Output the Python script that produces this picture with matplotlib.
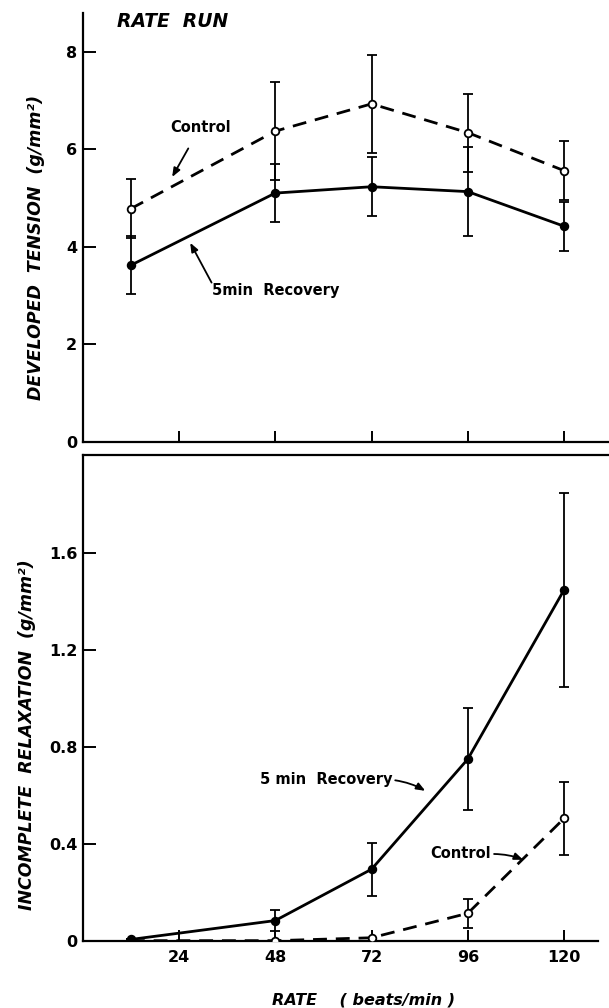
import matplotlib.pyplot as plt
import numpy as np

# stimulation rates (beats/min)
rate = [12, 48, 72, 96, 120]

# developed tension, g/mm^2
tension_control = [4.78, 6.37, 6.93, 6.34, 5.56]
tension_control_err = [0.6, 1.0, 1.01, 0.8, 0.6]
tension_recovery = [3.62, 5.10, 5.23, 5.13, 4.42]
tension_recovery_err = [0.6, 0.6, 0.6, 0.91, 0.5]

# incomplete relaxation, g/mm^2
relax_control = [0.0, 0.0, 0.012, 0.113, 0.505]
relax_control_err = [0.0, 0.0, 0.0, 0.06, 0.152]
relax_recovery = [0.005, 0.083, 0.295, 0.75, 1.449]
relax_recovery_err = [0.0, 0.045, 0.11, 0.21, 0.40]

x_ticks = [24, 48, 72, 96, 120]
top_yticks = [0, 2, 4, 6, 8]
bottom_yticks = [0, 0.4, 0.8, 1.2, 1.6]
bottom_yticklabels = ["0", "0.4", "0.8", "1.2", "1.6"]

FONT = "DejaVu Sans"
plt.rcParams["font.family"] = FONT


def draw_series(ax, y, err, filled, dashed):
    kw = dict(color="black", lw=2.0, marker="o", ms=5.5, mew=1.3,
              mfc="black" if filled else "white", mec="black",
              ecolor="black", elinewidth=1.3, capsize=3.5, capthick=1.3,
              zorder=3)
    eb = ax.errorbar(rate, y, yerr=err, **kw)
    if dashed:
        eb.lines[0].set_dashes((5.0, 3.2))
    return eb


def style_axis(ax):
    ax.tick_params(direction="in", width=1.4, colors="black", pad=4,
                   labelsize=11.5)
    ax.tick_params(axis="y", length=9)
    ax.tick_params(axis="x", length=8)
    for lab in ax.get_xticklabels() + ax.get_yticklabels():
        lab.set_fontweight("bold")
    for sp in ax.spines.values():
        sp.set_linewidth(1.6)


fig = plt.figure(figsize=(6.09, 10.08), dpi=100)

# upper panel: developed tension
ax1 = fig.add_axes([0.1358, 0.5618, 0.8642, 0.4256])
draw_series(ax1, tension_control, tension_control_err, filled=False, dashed=True)
draw_series(ax1, tension_recovery, tension_recovery_err, filled=True, dashed=False)
ax1.set_xlim(0, 131.2)
ax1.set_ylim(0, 8.8)
ax1.set_xticks(x_ticks)
ax1.set_xticklabels([])
ax1.set_yticks(top_yticks)
ax1.set_yticklabels([str(v) for v in top_yticks])
ax1.spines["top"].set_visible(False)
ax1.spines["right"].set_visible(False)
style_axis(ax1)

ax1.text(22.3, 8.61, "RATE  RUN", ha="center", va="center", fontsize=13.5,
         fontweight="bold", style="italic")
ax1.annotate("Control", xy=(22.3, 5.43), xytext=(29.3, 6.45),
             ha="center", va="center", fontsize=10.5, fontweight="bold",
             arrowprops=dict(arrowstyle="-|>,head_length=0.5,head_width=0.2",
                             color="black", lw=1.3, shrinkA=9, shrinkB=0))
ax1.annotate("5min  Recovery", xy=(26.8, 4.08), xytext=(48.0, 3.11),
             ha="center", va="center", fontsize=10.5, fontweight="bold",
             arrowprops=dict(arrowstyle="-|>,head_length=0.5,head_width=0.2",
                             color="black", lw=1.3, shrinkA=0, shrinkB=0,
                             patchA=None, relpos=(0.0, 1.0)))

# lower panel: incomplete relaxation
ax2 = fig.add_axes([0.1358, 0.0668, 0.8642, 0.4818])
draw_series(ax2, relax_control, relax_control_err, filled=False, dashed=True)
draw_series(ax2, relax_recovery, relax_recovery_err, filled=True, dashed=False)
ax2.set_xlim(0, 131.2)
ax2.set_ylim(0, 2.006)
ax2.set_xticks(x_ticks)
ax2.set_xticklabels([str(v) for v in x_ticks])
ax2.set_yticks(bottom_yticks)
ax2.set_yticklabels(bottom_yticklabels)
ax2.spines["right"].set_visible(False)
ax2.spines["bottom"].set_bounds(0, 128.5)
style_axis(ax2)
ax2.tick_params(axis="x", pad=7)

ax2.annotate("5 min  Recovery", xy=(85.4, 0.619), xytext=(60.7, 0.664),
             ha="center", va="center", fontsize=10.5, fontweight="bold",
             arrowprops=dict(arrowstyle="-|>,head_length=0.5,head_width=0.2",
                             color="black", lw=1.3, shrinkA=0, shrinkB=0,
                             relpos=(1.0, 0.5),
                             connectionstyle="arc3,rad=-0.1"))
ax2.annotate("Control", xy=(109.8, 0.334), xytext=(94.3, 0.358),
             ha="center", va="center", fontsize=10.5, fontweight="bold",
             arrowprops=dict(arrowstyle="-|>,head_length=0.5,head_width=0.2",
                             color="black", lw=1.3, shrinkA=0, shrinkB=0,
                             relpos=(1.0, 0.5),
                             connectionstyle="arc3,rad=-0.1"))

# axis titles
fig.text(0.059, 1 - 247 / 1008, "DEVELOPED  TENSION  (g/mm²)", rotation=90,
         ha="center", va="center", fontsize=12.5, fontweight="bold",
         style="italic")
fig.text(0.045, 1 - 735 / 1008, "INCOMPLETE  RELAXATION  (g/mm²)", rotation=90,
         ha="center", va="center", fontsize=12.5, fontweight="bold",
         style="italic")
fig.text(364 / 609, 1 - 1000 / 1008, "RATE    ( beats/min )", ha="center",
         va="center", fontsize=11.5, fontweight="bold", style="italic")

fig.savefig("out.png", dpi=100)
